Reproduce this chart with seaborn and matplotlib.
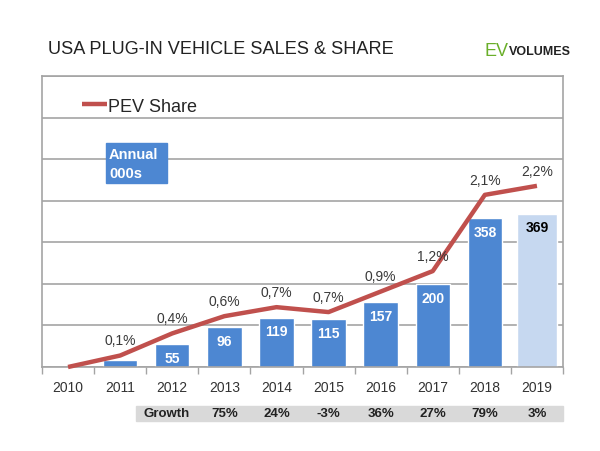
import matplotlib
matplotlib.use("Agg")
import matplotlib.pyplot as plt
import matplotlib.transforms as mtransforms
from matplotlib.patches import Rectangle
import numpy as np
import pandas as pd
import seaborn as sns

# ---- data ----
years = ["2010", "2011", "2012", "2013", "2014", "2015", "2016", "2017", "2018", "2019"]
sales = [0, 18, 55, 96, 119, 115, 157, 200, 358, 369]
sales_labels = ["", "", "55", "96", "119", "115", "157", "200", "358", "369"]
share = [0.0, 0.14, 0.41, 0.62, 0.73, 0.67, 0.92, 1.17, 2.10, 2.21]
share_labels = ["", "0,1%", "0,4%", "0,6%", "0,7%", "0,7%", "0,9%", "1,2%", "2,1%", "2,2%"]
growth_years = ["2013", "2014", "2015", "2016", "2017", "2018", "2019"]
growth = ["75%", "24%", "-3%", "36%", "27%", "79%", "3%"]

BLUE = "#4D87D2"
LIGHT = "#C6D8F0"
RED = "#C0504D"
GRID = "#A4A4A4"

sns.set_theme(style="white")
plt.rcParams["font.family"] = ["Liberation Sans", "DejaVu Sans"]

fig = plt.figure(figsize=(6.0, 4.52), dpi=100)
ax = fig.add_axes([42 / 600, 1 - 368 / 452, (563 - 42) / 600, (368 - 77) / 452])

df = pd.DataFrame({"year": years, "sales": sales})
palette = {y: (LIGHT if y == "2019" else BLUE) for y in years}
sns.barplot(data=df, x="year", y="sales", hue="year", palette=palette,
            width=0.66, legend=False, ax=ax, saturation=1, order=years)

# make the 2019 (estimate) bar slightly wider, as in the reference
for p, y in zip(ax.patches, years):
    if y == "2019":
        c = p.get_x() + p.get_width() / 2
        p.set_width(0.76)
        p.set_x(c - 0.38)

ax.set_ylim(0, 700)
ax.set_xlim(-0.5, 9.5)
ax.set_yticks(np.arange(0, 701, 100))
ax.set_yticklabels([])
ax.yaxis.grid(True, color=GRID, lw=1.2)
ax.set_axisbelow(True)
ax.set_xlabel("")
ax.set_ylabel("")
ax.tick_params(axis="y", length=0)
ax.set_xticks(range(len(years)))
ax.set_xticklabels(years, fontsize=10, color="#333333")
ax.tick_params(axis="x", which="major", length=0, pad=9)
ax.set_xticks(np.arange(-0.5, 10, 1), minor=True)
ax.tick_params(axis="x", which="minor", length=5, color=GRID, width=1.0, bottom=True)
for s in ax.spines.values():
    s.set_color(GRID)
    s.set_linewidth(1.2)

# bar value labels
for i, (v, lab) in enumerate(zip(sales, sales_labels)):
    if not lab:
        continue
    col = "black" if years[i] == "2019" else "white"
    ax.annotate(lab, (i, v), xytext=(0, -10), textcoords="offset points",
                ha="center", va="center", fontsize=10, fontweight="bold", color=col)

# share line on secondary axis
ax2 = ax.twinx()
sns.lineplot(x=np.arange(len(years)), y=share, ax=ax2, color=RED, lw=3.2,
             label="PEV Share", legend=False)
for ln in ax2.lines:
    ln.set_clip_on(False)
    ln.set_solid_capstyle("butt")
ax2.set_ylim(0, 3.55)
ax2.set_yticks([])
ax2.set_ylabel("")
ax2.grid(False)
for s in ax2.spines.values():
    s.set_visible(False)
for i, (v, lab) in enumerate(zip(share, share_labels)):
    if lab:
        ax2.annotate(lab, (i, v), xytext=(0, 11), textcoords="offset points",
                     ha="center", va="center", fontsize=10, color="#3A3A3A")

leg = ax2.legend(handles=ax2.lines[:1], labels=["PEV Share"], loc="center left",
                 bbox_to_anchor=(82 / 600, 1 - 107 / 452), bbox_transform=fig.transFigure,
                 frameon=False, fontsize=13, handlelength=1.4, handletextpad=0.05,
                 borderpad=0, borderaxespad=0)

# Annual 000s box
fig.patches.append(Rectangle((106 / 600, 1 - 184 / 452), 61 / 600, 40 / 452,
                             transform=fig.transFigure, color=BLUE, zorder=5))
fig.text(109 / 600, 1 - 155 / 452, "Annual", fontsize=10.5, fontweight="bold",
         color="white", va="center", ha="left", zorder=6)
fig.text(109 / 600, 1 - 174 / 452, "000s", fontsize=10.5, fontweight="bold",
         color="white", va="center", ha="left", zorder=6)

# growth row
tr = mtransforms.blended_transform_factory(ax.transData, fig.transFigure)
fig.patches.append(Rectangle((1.3, 1 - 422 / 452), 8.2, 15 / 452, transform=tr,
                             color="#D9D9D9", zorder=1, clip_on=False))
fig.text(1.9, 1 - 414 / 452, "Growth", transform=tr, ha="center", va="center",
         fontsize=9.5, fontweight="bold", color="#222222")
for y, g in zip(growth_years, growth):
    fig.text(years.index(y), 1 - 414 / 452, g, transform=tr, ha="center", va="center",
             fontsize=9.5, fontweight="bold", color="#222222")

# titles
fig.text(48 / 600, 1 - 49 / 452, "USA PLUG-IN VEHICLE SALES & SHARE", fontsize=13.1,
         color="#222222", ha="left", va="center")
fig.text(485 / 600, 1 - 51 / 452, "EV", fontsize=13, color="#6AAF2A", ha="left", va="center")
fig.text(509 / 600, 1 - 52 / 452, "VOLUMES", fontsize=9, fontweight="bold", color="#222222",
         ha="left", va="center", stretch="condensed")

fig.savefig("out.png", dpi=100)
